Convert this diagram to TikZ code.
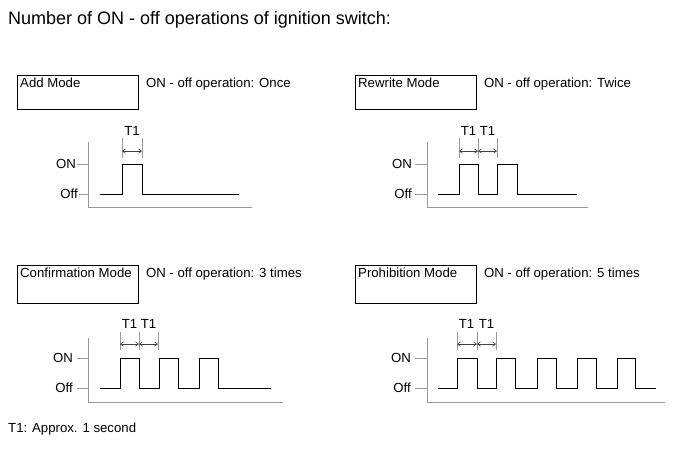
\documentclass[tikz,border=0pt]{standalone}
\usepackage{fontspec}
\setmainfont{Liberation Sans}
\usetikzlibrary{arrows.meta, positioning}
\tikzset{
  % mode name frame
  modebox/.style={
    rectangle, draw=black, line width=0.8pt,
    minimum width=121pt, minimum height=34pt, inner sep=0pt, anchor=north west
  },
  modelbl/.style={anchor=north west, inner sep=3pt, font=\fontsize{13.2}{15}\selectfont},
  oplbl/.style={anchor=north west, inner sep=3pt, font=\fontsize{13.2}{15}\selectfont},
  lvl/.style={anchor=east, inner sep=1pt, font=\fontsize{13.2}{15}\selectfont},
  tlbl/.style={inner sep=0pt, font=\fontsize{13.2}{15}\selectfont},
  txt/.style={anchor=west, inner sep=0pt, font=\fontsize{13.2}{15}\selectfont},
  % axes, signal and dimension lines
  ax/.style={draw=gray!80, line width=0.7pt},
  sig/.style={draw=black, line width=1pt},
  dim/.style={draw=gray!80, line width=0.5pt},
  dimarr/.style={{Straight Barb[length=3pt,width=4.5pt]}-{Straight Barb[length=3pt,width=4.5pt]},
                 draw=gray!50!black, line width=0.6pt}
}

\begin{document}
\begin{tikzpicture}[x=1pt, y=-1pt]
  \useasboundingbox (0,0) rectangle (690,467);

  \node[txt, font=\fontsize{18}{21}\selectfont] (title) at (8,20)
    {Number of ON - off operations of ignition switch:};

  %% ── Add Mode (top left) ────────────────────────────────────────────────
  \node[modebox] (addbox) at (17,75) {};
  \node[modelbl] (addname) at (addbox.north west) {Add Mode};
  \node[oplbl, right=4pt of addbox.north east, anchor=north west] (addop) {ON - off operation: Once};

  \coordinate (o1) at (88,207);
  \draw[ax] (88,142) -- (o1) -- (252,207);
  \draw[ax] (77,164) -- (88,164);
  \draw[ax] (79,194) -- (88,194);
  \node[lvl] (on1)  at (77,164) {ON};
  \node[lvl] (off1) at (79,194) {Off};

  \draw[sig] (100,194) -- (122,194) -- (122,164) -- (142,164) -- (142,194) -- (239,194);

  \draw[dim] (122,138) -- (122,158);
  \draw[dim] (142,138) -- (142,158);
  \draw[dimarr] (122,151) -- (142,151);
  \node[tlbl] (t1a) at (132,131) {T1};

  %% ── Rewrite Mode (top right) ───────────────────────────────────────────
  \node[modebox] (rwbox) at (355,75) {};
  \node[modelbl] (rwname) at (rwbox.north west) {Rewrite Mode};
  \node[oplbl, right=4pt of rwbox.north east, anchor=north west] (rwop) {ON - off operation: Twice};

  \coordinate (o2) at (427,207);
  \draw[ax] (427,142) -- (o2) -- (588,207);
  \draw[ax] (415,164) -- (427,164);
  \draw[ax] (415,194) -- (427,194);
  \node[lvl] (on2)  at (413,164) {ON};
  \node[lvl] (off2) at (413,194) {Off};

  \draw[sig] (438,194) -- (459,194) -- (459,164) -- (478,164) -- (478,194)
    -- (497,194) -- (497,164) -- (517,164) -- (517,194) -- (577,194);

  \draw[dim] (459,138) -- (459,158);
  \draw[dim] (478,138) -- (478,158);
  \draw[dim] (497,138) -- (497,158);
  \draw[dimarr] (459,151) -- (478,151);
  \draw[dimarr] (478,151) -- (497,151);
  \node[tlbl] (t1b) at (468.5,131) {T1};
  \node[tlbl] (t1c) at (487.5,131) {T1};

  %% ── Confirmation Mode (bottom left) ────────────────────────────────────
  \node[modebox, minimum height=38pt] (cfbox) at (17,265) {};
  \node[modelbl] (cfname) at (cfbox.north west) {Confirmation Mode};
  \node[oplbl, right=4pt of cfbox.north east, anchor=north west] (cfop) {ON - off operation: 3 times};

  \coordinate (o3) at (88,402);
  \draw[ax] (88,338) -- (o3) -- (283,402);
  \draw[ax] (77,358) -- (88,358);
  \draw[ax] (77,388) -- (88,388);
  \node[lvl] (on3)  at (74,358) {ON};
  \node[lvl] (off3) at (74,388) {Off};

  \draw[sig] (100,388) -- (120,388) -- (120,358) -- (139,358) -- (139,388)
    -- (159,388) -- (159,358) -- (178,358) -- (178,388)
    -- (199,388) -- (199,358) -- (218,358) -- (218,388) -- (271,388);

  \draw[dim] (120,332) -- (120,350);
  \draw[dim] (139,332) -- (139,350);
  \draw[dim] (158,332) -- (158,350);
  \draw[dimarr] (120,344) -- (139,344);
  \draw[dimarr] (139,344) -- (158,344);
  \node[tlbl] (t1d) at (129.5,324) {T1};
  \node[tlbl] (t1e) at (148.5,324) {T1};

  %% ── Prohibition Mode (bottom right) ────────────────────────────────────
  \node[modebox, minimum height=38pt] (prbox) at (355,265) {};
  \node[modelbl] (prname) at (prbox.north west) {Prohibition Mode};
  \node[oplbl, right=4pt of prbox.north east, anchor=north west] (prop) {ON - off operation: 5 times};

  \coordinate (o4) at (427,402);
  \draw[ax] (427,338) -- (o4) -- (665,402);
  \draw[ax] (415,358) -- (427,358);
  \draw[ax] (415,388) -- (427,388);
  \node[lvl] (on4)  at (412,358) {ON};
  \node[lvl] (off4) at (412,388) {Off};

  \draw[sig] (438,388) -- (457,388) -- (457,358) -- (477,358) -- (477,388)
    -- (496,388) -- (496,358) -- (515,358) -- (515,388)
    -- (537,388) -- (537,358) -- (556,358) -- (556,388)
    -- (577,388) -- (577,358) -- (596,358) -- (596,388)
    -- (617,388) -- (617,358) -- (635,358) -- (635,388) -- (656,388);

  \draw[dim] (457,332) -- (457,350);
  \draw[dim] (477,332) -- (477,350);
  \draw[dim] (496,332) -- (496,350);
  \draw[dimarr] (457,344) -- (477,344);
  \draw[dimarr] (477,344) -- (496,344);
  \node[tlbl] (t1f) at (466.5,324) {T1};
  \node[tlbl] (t1g) at (486.5,324) {T1};

  \node[txt] (note) at (8,429) {T1: Approx. 1 second};

\end{tikzpicture}
\end{document}
